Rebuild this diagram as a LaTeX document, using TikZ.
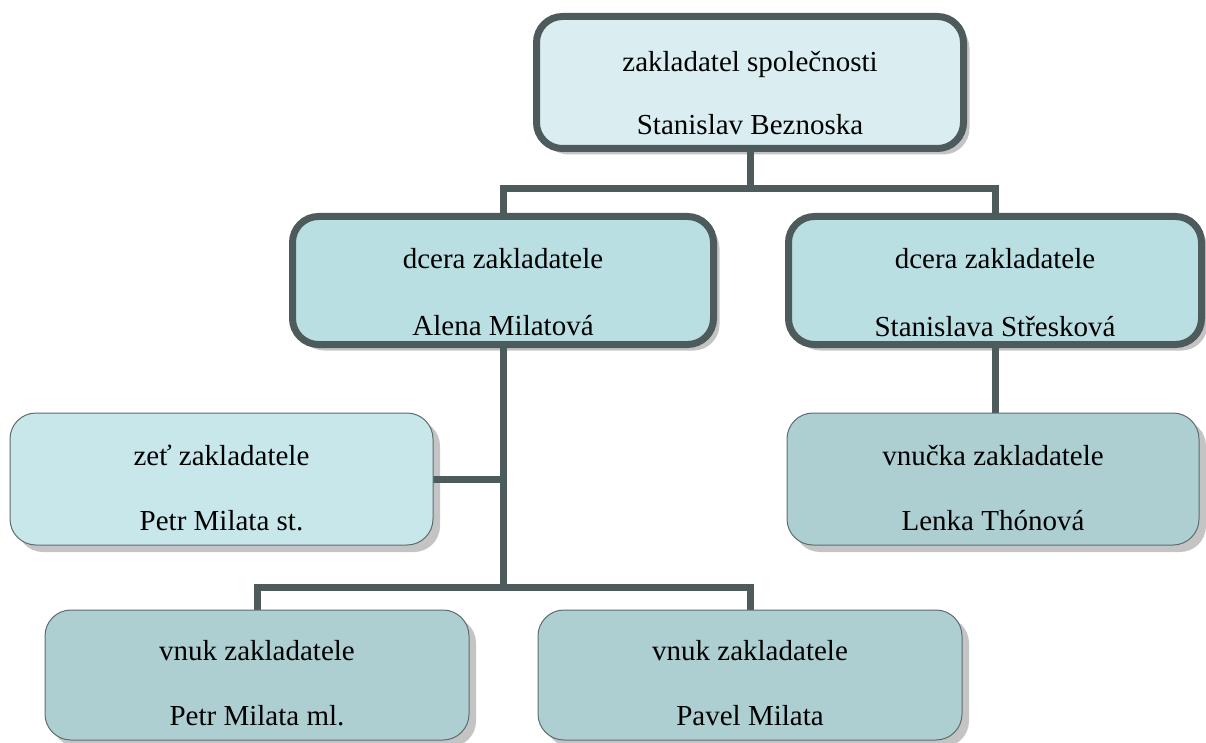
\documentclass[tikz,border=0pt]{standalone}
\usepackage{fontspec}
\setmainfont{Liberation Serif}
\usetikzlibrary{calc,backgrounds}
\definecolor{dark}{HTML}{4E5B5C}
\definecolor{topfill}{HTML}{DAEEF1}
\definecolor{midfill}{HTML}{BADFE3}
\definecolor{zetfill}{HTML}{C8E7EA}
\definecolor{grandfill}{HTML}{ADCFD2}
\definecolor{shade}{HTML}{C4C4C4}
\definecolor{thinline}{HTML}{5E6C6D}
\pgfdeclarelayer{shadow}
\pgfsetlayers{shadow,background,main}
\tikzset{
  thickbox/.style={draw=dark, line width=7pt, rounded corners=26pt, inner sep=0pt, outer sep=0pt},
  thinbox/.style={draw=thinline, line width=1pt, rounded corners=26pt, inner sep=0pt, outer sep=0pt},
  txt/.style={anchor=base, inner sep=0pt, font=\fontsize{29}{34}\selectfont},
  conn/.style={draw=dark, line width=7pt},
  shd/.style={fill=shade, rounded corners=26pt}
}
\begin{document}
\begin{tikzpicture}[x=1pt,y=-1pt]
\useasboundingbox (0,0) rectangle (1206,743);
% boxes (outer edge measured, path inset by half line width)
\node[thickbox, fill=topfill, minimum width=427pt, minimum height=132pt] (top) at (750,82.5) {};
\node[thickbox, fill=midfill, minimum width=421pt, minimum height=128pt] (ml) at (503,280.5) {};
\node[thickbox, fill=midfill, minimum width=413pt, minimum height=128pt] (mr) at (995,280.5) {};
\node[thinbox, fill=zetfill, minimum width=423pt, minimum height=132pt] (zet) at (221.5,479) {};
\node[thinbox, fill=grandfill, minimum width=412pt, minimum height=132pt] (vn) at (993,479) {};
\node[thinbox, fill=grandfill, minimum width=424pt, minimum height=130pt] (v1) at (257,675) {};
\node[thinbox, fill=grandfill, minimum width=424pt, minimum height=130pt] (v2) at (750,675) {};
% texts
\node[txt] (top-a) at (750,72) {zakladatel společnosti};
\node[txt] (top-b) at (750,135) {Stanislav Beznoska};
\node[txt] (ml-a) at (503,268) {dcera zakladatele};
\node[txt] (ml-b) at (503,335) {Alena Milatová};
\node[txt] (mr-a) at (995,269) {dcera zakladatele};
\node[txt] (mr-b) at (995,336) {Stanislava Střesková};
\node[txt] (zet-a) at (221.5,465) {zeť zakladatele};
\node[txt] (zet-b) at (221.5,530) {Petr Milata st.};
\node[txt] (vn-a) at (993,465) {vnučka zakladatele};
\node[txt] (vn-b) at (993,530) {Lenka Thónová};
\node[txt] (v1-a) at (257,660) {vnuk zakladatele};
\node[txt] (v1-b) at (257,725) {Petr Milata ml.};
\node[txt] (v2-a) at (750,660) {vnuk zakladatele};
\node[txt] (v2-b) at (750,725) {Pavel Milata};
% shadows
\begin{pgfonlayer}{shadow}
\foreach \b/\d in {top/6,ml/6,mr/6,zet/7,vn/7,v1/7,v2/7}{
  \fill[shd] ($(\b.north west)+(\d,\d)$) rectangle ($(\b.south east)+(\d,\d)$);
}
\end{pgfonlayer}
% connectors
\begin{pgfonlayer}{background}
\coordinate (j1) at (750,189);
\coordinate (j2) at (503,587);
\draw[conn] (top.south) -- (j1);
\draw[conn] (ml.north) |- (j1);
\draw[conn] (mr.north) |- (j1);
\draw[conn] (ml.south) -- (j2);
\draw[conn] (zet.east) -- (zet.east -| ml.south);
\draw[conn] (v1.north) |- (j2);
\draw[conn] (v2.north) |- (j2);
\draw[conn] (mr.south) -- (mr.south |- vn.north);
\end{pgfonlayer}
\end{tikzpicture}
\end{document}
